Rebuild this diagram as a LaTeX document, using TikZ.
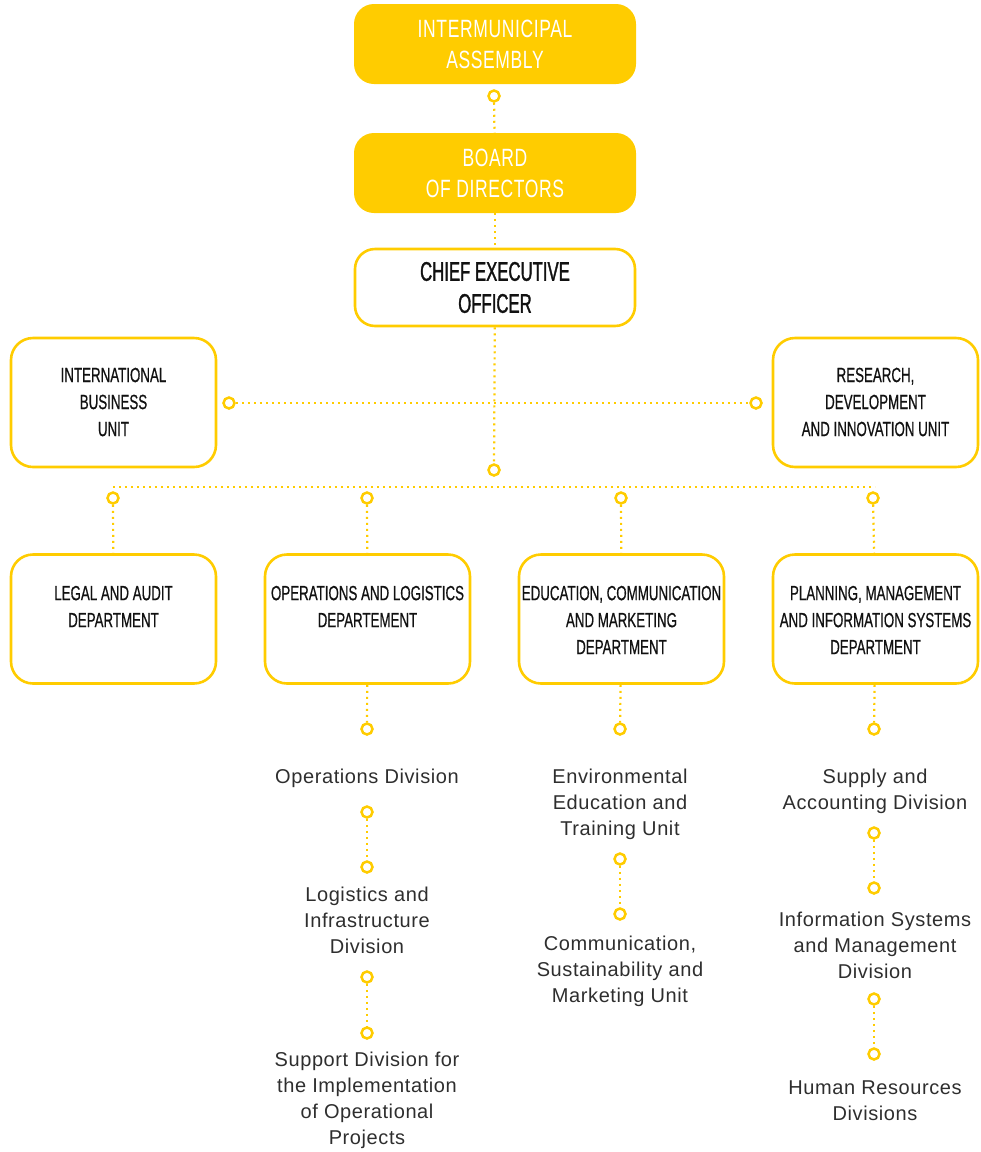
\documentclass[tikz,border=0pt]{standalone}
\usepackage{fontspec}
\setmainfont{Liberation Sans}
\newfontfamily\condfont[FakeStretch=0.65,FakeBold=0.6]{Liberation Sans}
\newfontfamily\ceofont[FakeStretch=0.62,FakeBold=1.2]{Liberation Sans}
\newfontfamily\titlefont[FakeStretch=0.7,LetterSpace=2.5]{Liberation Sans}
\newfontfamily\bodyfont[LetterSpace=3]{Liberation Sans}
\definecolor{gold}{HTML}{FFCC00}
\definecolor{ink}{HTML}{111111}
\definecolor{gray}{HTML}{2E2E2E}
\tikzset{
  topbox/.style={rounded corners=20pt, fill=gold, minimum width=282pt, minimum height=80pt, inner sep=0pt, text=white, align=center, font=\titlefont\fontsize{25}{31}\selectfont},
  ceobox/.style={rounded corners=20pt, draw=gold, line width=2.6pt, fill=white, minimum width=280pt, minimum height=77pt, inner sep=0pt, text=ink, align=center, font=\ceofont\fontsize{27}{32}\selectfont},
  unitbox/.style={rounded corners=22pt, draw=gold, line width=2.6pt, fill=white, minimum width=205pt, minimum height=129pt, inner sep=0pt},
  boxtext/.style={text=ink, align=center, inner sep=0pt, font=\condfont\fontsize{20.5}{27}\selectfont},
  subtext/.style={text=gray, align=center, inner sep=0pt, font=\bodyfont\fontsize{20}{26}\selectfont},
  knot/.style={circle, draw=gold, fill=white, line width=2.5pt, minimum size=11pt, inner sep=0pt},
  dotline/.style={draw=gold, line width=2.2pt, dash pattern=on 2pt off 4pt},
}
\begin{document}
\begin{tikzpicture}[x=1pt,y=-1pt]
\useasboundingbox (0,0) rectangle (981,1152);
% top chain
\node[topbox] (assembly) at (495,44) {INTERMUNICIPAL\\ASSEMBLY};
\node[topbox] (board) at (495,173) {BOARD\\OF DIRECTORS};
\node[ceobox] (ceo) at (495,287.5) {CHIEF EXECUTIVE\\OFFICER};
\node[knot] (k0) at (494,96) {};
\node[knot] (k1) at (494,470) {};
\node[unitbox] (intl) at (113.5,402.5) {};
\node[boxtext] (intlt) at (113.5,402) {INTERNATIONAL\\BUSINESS\\UNIT};
\node[unitbox] (rdi) at (875.5,402.5) {};
\node[boxtext] (rdit) at (875.5,402) {RESEARCH,\\DEVELOPMENT\\AND INNOVATION UNIT};
\node[knot] (ki) at (229,403) {};
\node[knot] (kr) at (756,403) {};
% departments
\node[unitbox] (d1) at (113.5,619) {};
\node[boxtext] (d1t) at (113.5,606.5) {LEGAL AND AUDIT\\DEPARTMENT};
\node[unitbox] (d2) at (367.5,619) {};
\node[boxtext] (d2t) at (367.5,606.5) {OPERATIONS AND LOGISTICS\\DEPARTEMENT};
\node[unitbox] (d3) at (621.5,619) {};
\node[boxtext] (d3t) at (621.5,620) {EDUCATION, COMMUNICATION\\AND MARKETING\\DEPARTMENT};
\node[unitbox] (d4) at (875.5,619) {};
\node[boxtext] (d4t) at (875.5,620) {PLANNING, MANAGEMENT\\AND INFORMATION SYSTEMS\\DEPARTMENT};
\coordinate (h1) at (113,487);
\coordinate (h4) at (875,487);
\node[knot] (p1) at (113,498) {};
\node[knot] (p2) at (367,498) {};
\node[knot] (p3) at (621,498) {};
\node[knot] (p4) at (873,498) {};
% lower columns
\node[knot] (q2) at (367,729) {};
\node[knot] (q3) at (620,729) {};
\node[knot] (q4) at (874,729) {};
\node[subtext] (o1) at (367,778) {Operations Division};
\node[knot] (o1a) at (367,812) {};
\node[knot] (o2a) at (367,867) {};
\node[subtext] (o2) at (367,920) {Logistics and\\Infrastructure\\Division};
\node[knot] (o2b) at (367,977) {};
\node[knot] (o3a) at (367,1033) {};
\node[subtext] (o3) at (367,1100) {Support Division for\\the Implementation\\of Operational\\Projects};
\node[subtext] (e1) at (620,804) {Environmental\\Education and\\Training Unit};
\node[knot] (e1a) at (620,859) {};
\node[knot] (e2a) at (620,914) {};
\node[subtext] (e2) at (620,971) {Communication,\\Sustainability and\\Marketing Unit};
\node[subtext] (s1) at (875,791) {Supply and\\Accounting Division};
\node[knot] (s1a) at (874,833) {};
\node[knot] (s2a) at (874,888) {};
\node[subtext] (s2) at (875,945) {Information Systems\\and Management\\Division};
\node[knot] (s2b) at (874,999) {};
\node[knot] (s3a) at (874,1054) {};
\node[subtext] (s3) at (875,1101) {Human Resources\\Divisions};
% connectors
\draw[dotline] (k0) -- (board);
\draw[dotline] (board) -- (ceo);
\draw[dotline] (ceo) -- (k1);
\draw[dotline] (ki) -- (kr);
\draw[dotline] (h1) -- (h4);
\draw[dotline] (p1) -- (d1);
\draw[dotline] (p2) -- (d2);
\draw[dotline] (p3) -- (d3);
\draw[dotline] (p4) -- (d4);
\draw[dotline] (d2) -- (q2);
\draw[dotline] (d3) -- (q3);
\draw[dotline] (d4) -- (q4);
\draw[dotline] (o1a) -- (o2a);
\draw[dotline] (o2b) -- (o3a);
\draw[dotline] (e1a) -- (e2a);
\draw[dotline] (s1a) -- (s2a);
\draw[dotline] (s2b) -- (s3a);
\end{tikzpicture}
\end{document}
